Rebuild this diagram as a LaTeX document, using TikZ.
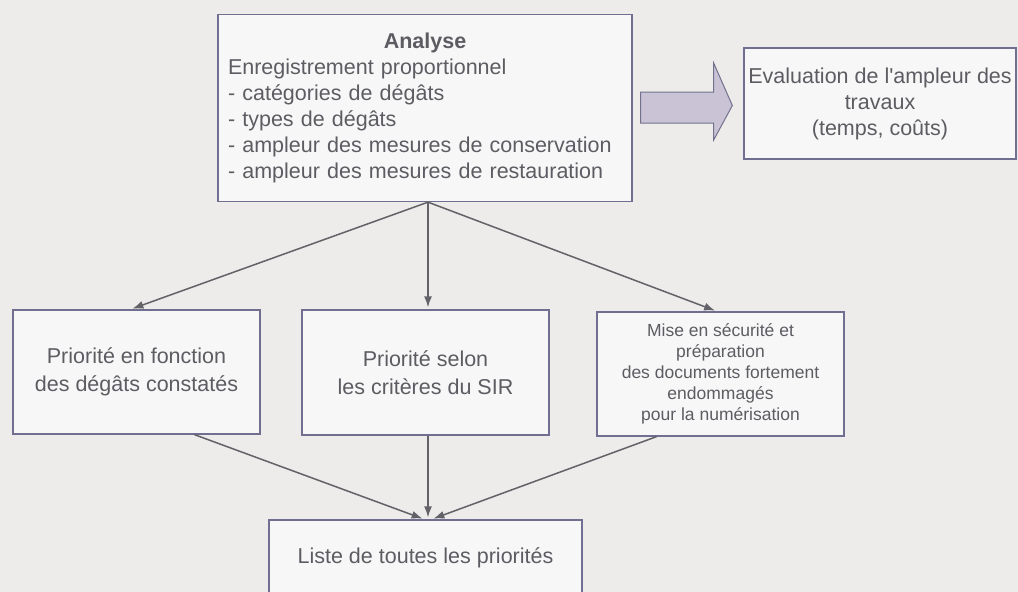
\documentclass[tikz,border=0pt]{standalone}
\usepackage{fontspec}
\newfontfamily\diagfont{Liberation Sans}
\usetikzlibrary{arrows.meta, calc, positioning}
\definecolor{papier}{RGB}{237,236,234}
\definecolor{cadre}{RGB}{112,110,145}
\definecolor{texte}{RGB}{92,92,98}
\definecolor{trait}{RGB}{98,98,104}
\definecolor{fleche}{RGB}{202,195,214}

\tikzset{
  boite/.style={draw=cadre, line width=1.3pt, fill=white!60!papier, text=texte, align=center, inner sep=0pt},
  lien/.style={draw=trait, line width=1.5pt, shorten >=2pt, -{Latex[length=11pt,width=8pt]}}
}

\begin{document}
\begin{tikzpicture}[x=1pt, y=-1pt, font=\diagfont]
  % --- Fond de la page ---
  \fill[papier] (0,0) rectangle (1018,592);
  \useasboundingbox (0,0) rectangle (1018,592);
  \clip (0,0) rectangle (1018,592);

  % --- Analyse ---
  \node[boite, minimum width=414pt, minimum height=187pt, text width=394pt, align=left,
        font=\diagfont\fontsize{21.5}{26}\selectfont] (ana) at (425,108)
    {\hfill\textbf{Analyse}\hfill\null\\
     Enregistrement proportionnel\\
     - catégories de dégâts\\
     - types de dégâts\\
     - ampleur des mesures de conservation\\
     - ampleur des mesures de restauration};

  % --- Evaluation ---
  \node[boite, minimum width=272pt, minimum height=111pt,
        font=\diagfont\fontsize{21.5}{26}\selectfont] (eval) at (880,103.5)
    {Evaluation de l'ampleur des\\travaux\\(temps, coûts)};

  % grosse fleche vers l'evaluation
  \draw[draw=cadre!85!gray, fill=fleche, line width=1pt]
    ($(ana.east)+(8,-16)$) -- ($(ana.east)+(81,-16)$) -- ($(ana.east)+(81,-45)$)
    -- ($(eval.west)+(-11,2)$) -- ($(ana.east)+(81,32)$) -- ($(ana.east)+(81,15)$)
    -- ($(ana.east)+(8,15)$) -- cycle;

  % --- Priorites ---
  \node[boite, minimum width=247pt, minimum height=124pt,
        font=\diagfont\fontsize{21.5}{28}\selectfont] (prio1) at (136.5,372)
    {Priorité en fonction\\des dégâts constatés};
  \node[boite, minimum width=247pt, minimum height=125pt,
        font=\diagfont\fontsize{21.5}{28}\selectfont] (prio2) at (425.5,372.5)
    {Priorité selon\\les critères du SIR};
  \node[boite, minimum width=247pt, minimum height=124pt,
        font=\diagfont\fontsize{17.5}{21}\selectfont] (prio3) at (720.5,374)
    {Mise en sécurité et\\préparation\\des documents fortement\\endommagés\\pour la numérisation};

  % --- Liste finale ---
  \node[boite, minimum width=313pt, minimum height=76pt,
        font=\diagfont\fontsize{21.5}{26}\selectfont] (liste) at (425.5,558)
    {Liste de toutes les priorités};

  % Fleches
  \draw[lien] ([xshift=3pt]ana.south) -- ([xshift=-6pt]prio1.north);
  \draw[lien] ([xshift=3pt]ana.south) -- ([xshift=2.5pt]prio2.north);
  \draw[lien] ([xshift=3pt]ana.south) -- ([xshift=-3.5pt]prio3.north);

  \draw[lien] ([xshift=58pt]prio1.south) -- ([xshift=-1pt]liste.north);
  \draw[lien] ([xshift=2.5pt]prio2.south) -- ([xshift=2.5pt]liste.north);
  \draw[lien] ([xshift=-64pt]prio3.south) -- ([xshift=6pt]liste.north);
\end{tikzpicture}
\end{document}
